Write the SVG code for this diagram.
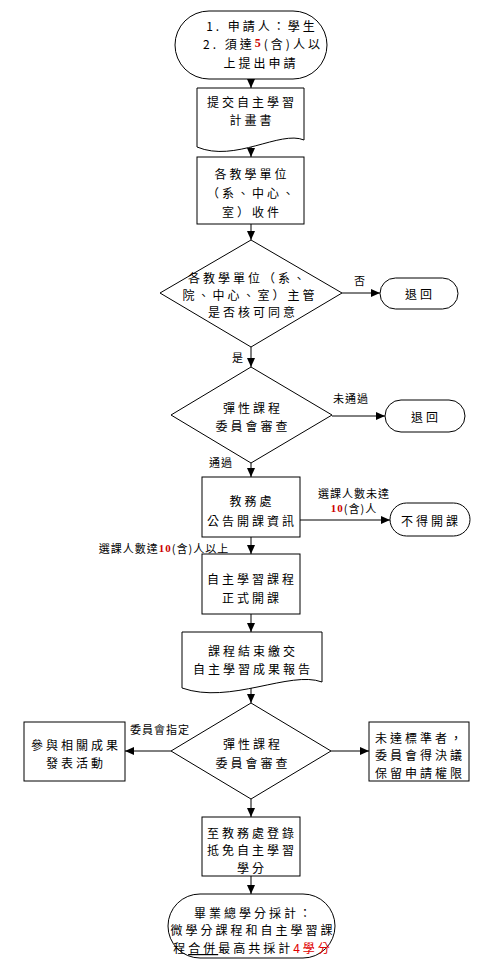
<svg xmlns="http://www.w3.org/2000/svg" width="496" height="974" viewBox="0 0 496 974">
<defs>
<marker id="ah" markerUnits="userSpaceOnUse" markerWidth="9" markerHeight="8" refX="9" refY="4" orient="auto">
<path d="M0,0 L9,4 L0,8 Z" fill="#000"/>
</marker>
<style>
.s{fill:#fff;stroke:#000;stroke-width:1}
.t{font-family:"Noto Sans CJK TC","Noto Sans CJK SC",sans-serif;font-size:12px;letter-spacing:3px;fill:#000;text-anchor:middle;dominant-baseline:central}
.l{font-family:"Noto Sans CJK TC","Noto Sans CJK SC",sans-serif;font-size:11px;letter-spacing:1px;fill:#000;text-anchor:middle;dominant-baseline:central}
.c line{stroke:#000;stroke-width:1;marker-end:url(#ah)}
.r{fill:#cc0000;font-weight:bold;font-family:"Liberation Serif",serif}
.r2{fill:#e00000}
</style>
</defs>
<rect width="496" height="974" fill="#fff"/>

<g class="c" id="connectors">
<line x1="251" y1="79" x2="251" y2="88"/>
<line x1="251" y1="147" x2="251" y2="157"/>
<line x1="251" y1="224" x2="251" y2="240"/>
<line x1="342" y1="293" x2="380" y2="293"/>
<line x1="251" y1="347" x2="251" y2="367"/>
<line x1="332" y1="416" x2="385" y2="416"/>
<line x1="251" y1="463" x2="251" y2="477"/>
<line x1="300" y1="520" x2="390" y2="520"/>
<line x1="251" y1="537" x2="251" y2="554"/>
<line x1="251" y1="614" x2="251" y2="632"/>
<line x1="251" y1="687" x2="251" y2="703"/>
<line x1="171" y1="751" x2="125" y2="751"/>
<line x1="331" y1="751" x2="369" y2="751"/>
<line x1="251" y1="799" x2="251" y2="817"/>
<line x1="251" y1="876" x2="251" y2="894"/>
</g>

<g id="start">
<rect class="s" x="175" y="11" width="152" height="68" rx="34" ry="34"/>
<text class="t" x="262" y="25">1. 申請人：學生</text>
<text class="t" x="263" y="43">2. 須達<tspan class="r">5</tspan>(含)人以</text>
<text class="t" x="261" y="62">上提出申請</text>
</g>

<g id="doc1">
<path class="s" d="M197,88 H304 V140 C280,130 235,163 197,147 Z"/>
<text class="t" x="252" y="101">提交自主學習</text>
<text class="t" x="252" y="119">計畫書</text>
</g>

<g id="box2">
<rect class="s" x="197" y="157" width="107" height="67"/>
<text class="t" x="252" y="173">各教學單位</text>
<text class="t" x="252" y="192">（系、中心、</text>
<text class="t" x="252" y="211">室）收件</text>
</g>

<g id="dec1">
<path class="s" d="M251,240 L342,293 L251,347 L160,293 Z"/>
<text class="t" x="248" y="277">各教學單位（系、</text>
<text class="t" x="250" y="294">院、中心、室）主管</text>
<text class="t" x="253" y="311">是否核可同意</text>
</g>

<g id="ret1">
<rect class="s" x="380" y="278" width="78" height="31" rx="15.5" ry="15.5"/>
<text class="t" x="420" y="293">退回</text>
</g>

<g id="dec2">
<path class="s" d="M251,367 L332,415 L251,463 L171,415 Z"/>
<text class="t" x="253" y="407">彈性課程</text>
<text class="t" x="253" y="425">委員會審查</text>
</g>

<g id="ret2">
<rect class="s" x="385" y="400" width="80" height="32" rx="16" ry="16"/>
<text class="t" x="426" y="416">退回</text>
</g>

<g id="box3">
<rect class="s" x="202" y="477" width="98" height="60"/>
<text class="t" x="252" y="500">教務處</text>
<text class="t" x="252" y="520">公告開課資訊</text>
</g>

<g id="noopen">
<rect class="s" x="390" y="503" width="80" height="33" rx="16.5" ry="16.5"/>
<text class="t" x="431" y="520">不得開課</text>
</g>

<g id="box4">
<rect class="s" x="202" y="554" width="98" height="60"/>
<text class="t" x="252" y="578">自主學習課程</text>
<text class="t" x="252" y="597">正式開課</text>
</g>

<g id="doc2">
<path class="s" d="M182,632 H322 V682 C290,670 230,705 182,688 Z"/>
<text class="t" x="253" y="650">課程結束繳交</text>
<text class="t" x="253" y="668">自主學習成果報告</text>
</g>

<g id="dec3">
<path class="s" d="M251,703 L331,751 L251,799 L171,751 Z"/>
<text class="t" x="253" y="743">彈性課程</text>
<text class="t" x="253" y="762">委員會審查</text>
</g>

<g id="boxL">
<rect class="s" x="24" y="722" width="101" height="59"/>
<text class="t" x="76" y="744">參與相關成果</text>
<text class="t" x="76" y="762">發表活動</text>
</g>

<g id="boxR">
<rect class="s" x="369" y="722" width="100" height="59"/>
<text class="t" x="420" y="737">未達標準者，</text>
<text class="t" x="420" y="754">委員會得決議</text>
<text class="t" x="420" y="772">保留申請權限</text>
</g>

<g id="box5">
<rect class="s" x="202" y="817" width="98" height="59"/>
<text class="t" x="252" y="832">至教務處登錄</text>
<text class="t" x="252" y="849">抵免自主學習</text>
<text class="t" x="252" y="867">學分</text>
</g>

<g id="end">
<rect class="s" x="168" y="894" width="167" height="64" rx="32" ry="32"/>
<text class="t" x="254" y="912">畢業總學分採計：</text>
<text class="t" x="253" y="929">微學分課程和自主學習課</text>
<text class="t" x="253" y="947">程<tspan text-decoration="underline">合併</tspan>最高共採計<tspan class="r2">4學分</tspan></text>
</g>

<g id="labels">
<text class="l" x="360" y="280">否</text>
<text class="l" x="238" y="357">是</text>
<text class="l" x="351" y="398">未通過</text>
<text class="l" x="221" y="462">通過</text>
<text class="l" x="354" y="493">選課人數未達</text>
<text class="l" x="354" y="508"><tspan class="r">10</tspan>(含)人</text>
<text class="l" x="164" y="548">選課人數達<tspan class="r">10</tspan>(含)人以上</text>
<text class="l" x="160" y="729">委員會指定</text>
</g>
</svg>
